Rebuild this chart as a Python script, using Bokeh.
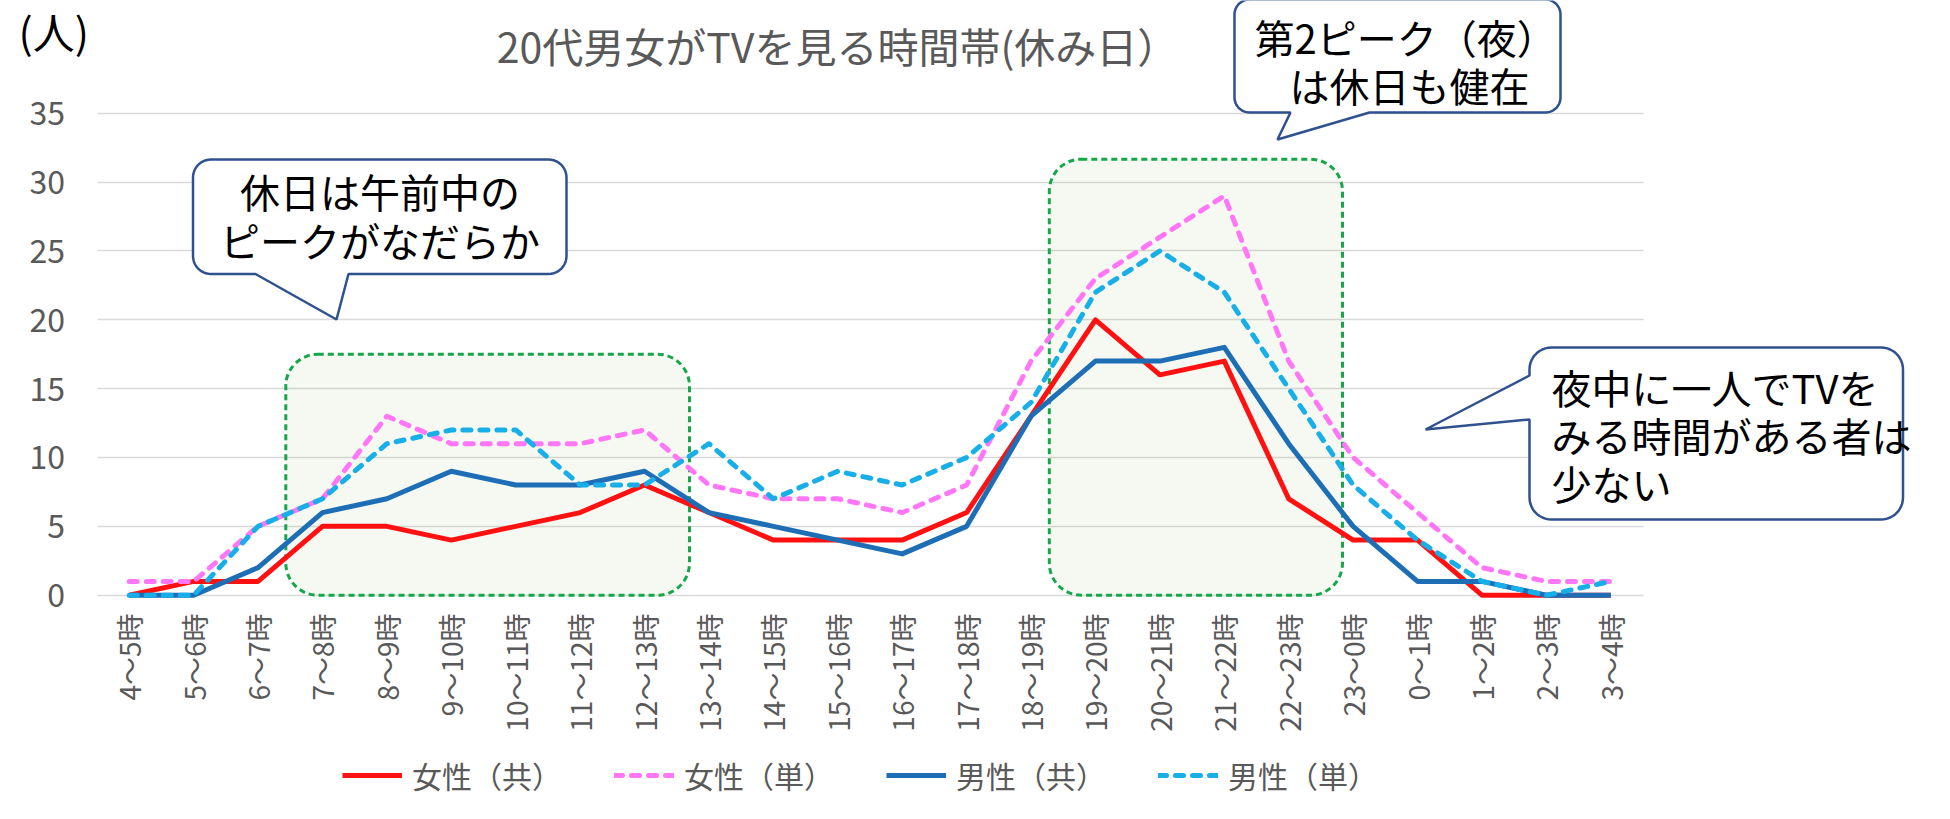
import numpy as np
from bokeh.plotting import figure
from bokeh.models import (Range1d, FixedTicker, Label, PolyAnnotation, LinearAxis, Grid,
                          BoxAnnotation, Legend, LegendItem)
from bokeh.embed import file_html
from bokeh.resources import INLINE
from math import pi

# ---------------- data ----------------
categories = ["4〜5時", "5〜6時", "6〜7時", "7〜8時", "8〜9時", "9〜10時", "10〜11時",
              "11〜12時", "12〜13時", "13〜14時", "14〜15時", "15〜16時", "16〜17時",
              "17〜18時", "18〜19時", "19〜20時", "20〜21時", "21〜22時", "22〜23時",
              "23〜0時", "0〜1時", "1〜2時", "2〜3時", "3〜4時"]
female_shared = [0, 1, 1, 5, 5, 4, 5, 6, 8, 6, 4, 4, 4, 6, 13, 20, 16, 17, 7, 4, 4, 0, 0, 0]
female_single = [1, 1, 5, 7, 13, 11, 11, 11, 12, 8, 7, 7, 6, 8, 17, 23, 26, 29, 17, 10, 6, 2, 1, 1]
male_shared = [0, 0, 2, 6, 7, 9, 8, 8, 9, 6, 5, 4, 3, 5, 13, 17, 17, 18, 11, 5, 1, 1, 0, 0]
male_single = [0, 0, 5, 7, 11, 12, 12, 8, 8, 11, 7, 9, 8, 10, 14, 22, 25, 22, 15, 8, 4, 1, 0, 1]
series_names = ["女性（共）", "女性（単）", "男性（共）", "男性（単）"]
y_ticks = [0, 5, 10, 15, 20, 25, 30, 35]

title_text = "20代男女がTVを見る時間帯(休み日）"
unit_text = "(人)"

# ---------------- layout (page pixels) ----------------
W, H = 1934, 803          # canvas; page offset 8px
NC = len(categories)
positions = list(range(NC))
FL, FR = 104.5, 1650.5    # plot area left/right (page px)
CW = (FR - FL) / NC       # width of one category
Y0 = 602.7                # page y of value 0
UH = 13.771               # px per unit

FONT = "Noto Sans CJK JP"


def X(px):
    return (px - FL) / CW - 0.5


def Y(py):
    return (Y0 - py) / UH


p = figure(width=W, height=H,
           x_range=Range1d(X(8), X(8 + W)), y_range=Range1d(Y(8 + H), Y(8)),
           x_axis_type=None, y_axis_type=None,
           min_border=0, min_border_left=0, min_border_right=0,
           min_border_top=0, min_border_bottom=0,
           output_backend="svg", toolbar_location=None)
p.outline_line_color = None
p.background_fill_color = "white"
p.border_fill_color = "white"
p.title.visible = False

# horizontal gridlines limited to the plot area
try:
    grid = Grid(dimension=1, ticker=FixedTicker(ticks=y_ticks),
                cross_bounds=(X(FL), X(FR)),
                grid_line_color="#D9D9D9", grid_line_width=1.6)
    p.add_layout(grid)
except Exception:
    p.segment(x0=[X(FL)] * len(y_ticks), x1=[X(FR)] * len(y_ticks), y0=y_ticks, y1=y_ticks,
              line_color="#D9D9D9", line_width=1.6, level="underlay")

# axes drawn at fixed locations inside the canvas-wide frame
yaxis = LinearAxis(ticker=FixedTicker(ticks=y_ticks), fixed_location=X(FL))
xaxis = LinearAxis(ticker=FixedTicker(ticks=positions),
                   major_label_overrides={i: c for i, c in zip(positions, categories)},
                   fixed_location=Y(611))
for ax in (xaxis, yaxis):
    ax.axis_line_color = None
    ax.major_tick_line_color = None
    ax.minor_tick_line_color = None
    ax.major_tick_out = 0
    ax.major_tick_in = 0
    ax.major_label_text_font = FONT
    ax.major_label_text_color = "#595959"
yaxis.major_label_text_font_size = "32px"
yaxis.major_label_standoff = 32
xaxis.major_label_text_font_size = "28px"
xaxis.major_label_orientation = pi / 2
xaxis.major_label_standoff = 10
p.add_layout(yaxis, "left")
p.add_layout(xaxis, "below")

# highlighted areas (green dashed rounded boxes)
for (l, r, t) in [(293.3, 697.0, 361.7), (1056.8, 1350.0, 166.7)]:
    box = BoxAnnotation(left=X(l), right=X(r), top=Y(t), bottom=0,
                        fill_color="#70AD47", fill_alpha=0.07,
                        line_color="#17A64A", line_alpha=1.0, line_width=3,
                        line_dash="6 4", border_radius=32, level="underlay")
    p.add_layout(box)

# lines
colors = ["#FF1111", "#FF77F7", "#1E6EB6", "#18AEE8"]
dashes = ["solid", "8 9", "solid", "8 9"]
renderers = []
for vals, c, d in zip([female_shared, female_single, male_shared, male_single], colors, dashes):
    r = p.line(positions, vals, line_color=c, line_width=5, line_dash=d,
               line_join="round", line_cap="round" if d != "solid" else "butt")
    renderers.append(r)

legend = Legend(items=[LegendItem(label=n, renderers=[r]) for n, r in zip(series_names, renderers)],
                orientation="horizontal", location=(342, 6),
                glyph_width=60, glyph_height=32, label_standoff=10, spacing=52,
                label_text_font=FONT, label_text_font_size="30px",
                label_text_color="#595959", label_height=32,
                border_line_color=None, background_fill_alpha=0,
                padding=0, margin=0)
p.add_layout(legend, "center")


# ---------------- callouts ----------------
def bubble(x0, y0, x1, y1, r, tail_side, b1, b2, tip):
    pts = []

    def arc(cx, cy, a0, a1):
        for t in np.linspace(np.radians(a0), np.radians(a1), 12):
            pts.append((cx + r * np.cos(t), cy + r * np.sin(t)))

    arc(x0 + r, y0 + r, 180, 270)
    arc(x1 - r, y0 + r, 270, 360)
    arc(x1 - r, y1 - r, 0, 90)
    if tail_side == "bottom":
        pts.append((b2, y1))
        pts.append(tip)
        pts.append((b1, y1))
    arc(x0 + r, y1 - r, 90, 180)
    if tail_side == "left":
        pts.append((x0, b2))
        pts.append(tip)
        pts.append((x0, b1))
    xs = [X(a) for a, b in pts]
    ys = [Y(b) for a, b in pts]
    return PolyAnnotation(xs=xs, ys=ys, fill_color="white", fill_alpha=1.0,
                          line_color="#2F528F", line_alpha=1.0, line_width=2.5)


p.add_layout(bubble(200.5, 167, 574, 281.5, 18, "bottom", 263, 356, (344, 327)))
p.add_layout(bubble(1242, 7, 1568, 120, 15, "bottom", 1298, 1377, (1285, 147)))
p.add_layout(bubble(1537, 355, 1910.5, 527, 22, "left", 383, 427, (1433, 437)))


def label(text, px, py, align="left", size="40px", color="black"):
    p.add_layout(Label(x=X(px), y=Y(py), text=text, text_align=align,
                       text_baseline="middle", text_font=FONT,
                       text_font_size=size, text_color=color))


label("休日は午前中の", 387.5, 198.5, "center")
label("ピークがなだらか", 387.5, 247, "center")
label("第2ピーク（夜）", 1262, 44)
label("は休日も健在", 1297, 92.5)
label("夜中に一人でTVを", 1559, 394)
label("みる時間がある者は", 1559, 442)
label("少ない", 1559, 490)

label(title_text, 845, 52.5, "center", "41px", "#595959")
label(unit_text, 26, 38, "left", "42px", "black")

open("out.html", "w").write(file_html(p, INLINE))
